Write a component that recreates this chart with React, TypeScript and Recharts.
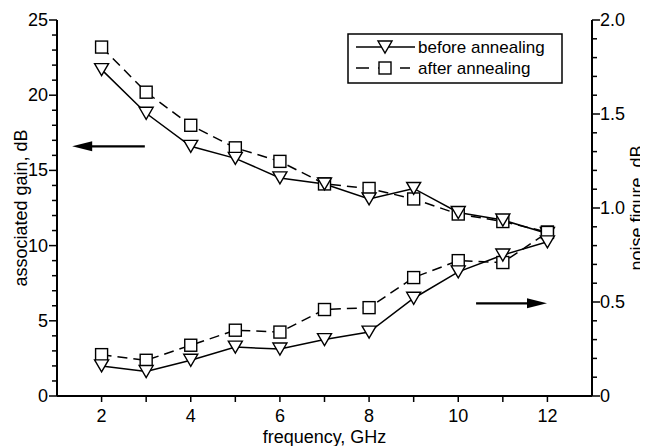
import React from 'react';
import {
  LineChart,
  Line,
  XAxis,
  YAxis,
  Legend,
  ReferenceLine
} from 'recharts';

// frequency, GHz
const freq = [2, 3, 4, 5, 6, 7, 8, 9, 10, 11, 12];
// associated gain, dB (left axis)
const gainBefore = [21.7, 18.8, 16.6, 15.8, 14.5, 14.1, 13.1, 13.8, 12.2, 11.7, 10.8];
const gainAfter = [23.2, 20.2, 18.0, 16.5, 15.6, 14.1, 13.8, 13.1, 12.1, 11.6, 10.9];
// noise figure, dB (right axis)
const nfBefore = [0.16, 0.13, 0.19, 0.26, 0.25, 0.30, 0.34, 0.52, 0.66, 0.75, 0.82];
const nfAfter = [0.22, 0.19, 0.27, 0.35, 0.34, 0.46, 0.47, 0.63, 0.72, 0.71, 0.87];

const xTicks = [2, 3, 4, 5, 6, 7, 8, 9, 10, 11, 12];
const gainTicks = [0, 1, 2, 3, 4, 5, 6, 7, 8, 9, 10, 11, 12, 13, 14, 15, 16, 17, 18, 19, 20, 21, 22, 23, 24, 25];
const nfTicks = [0, 0.1, 0.2, 0.3, 0.4, 0.5, 0.6, 0.7, 0.8, 0.9, 1.0, 1.1, 1.2, 1.3, 1.4, 1.5, 1.6, 1.7, 1.8, 1.9, 2.0];

const data = freq.map((f, i) => ({
  f,
  gainBefore: gainBefore[i],
  gainAfter: gainAfter[i],
  nfBefore: nfBefore[i],
  nfAfter: nfAfter[i]
}));

const FONT = '"Liberation Sans", Arial, Helvetica, sans-serif';

const Triangle = ({ cx, cy }: any) => (
  <polygon
    points={`${cx - 7},${cy - 6} ${cx + 7},${cy - 6} ${cx},${cy + 6}`}
    fill="#fff"
    stroke="#000"
    strokeWidth={1.4}
  />
);

const Square = ({ cx, cy }: any) => (
  <rect x={cx - 6} y={cy - 6} width={12} height={12} fill="#fff" stroke="#000" strokeWidth={1.4} />
);

const XTick = ({ x, y, payload }: any) => {
  const v = payload.value;
  return (
    <g>
      <line x1={x} x2={x} y1={y} y2={y + 6} stroke="#000" strokeWidth={1.5} />
      {v % 2 === 0 && (
        <text x={x} y={y + 20} textAnchor="middle" dominantBaseline="central" fontSize={18} fontFamily={FONT} fill="#000">
          {v}
        </text>
      )}
    </g>
  );
};

const LeftTick = ({ x, y, payload }: any) => {
  const v = payload.value;
  const major = v % 5 === 0;
  return (
    <g>
      <line x1={x} x2={x - (major ? 8 : 5)} y1={y} y2={y} stroke="#000" strokeWidth={1.5} />
      {major && (
        <text x={x - 9} y={y} textAnchor="end" dominantBaseline="central" fontSize={18} fontFamily={FONT} fill="#000">
          {v}
        </text>
      )}
    </g>
  );
};

const RightTick = ({ x, y, payload }: any) => {
  const v = payload.value;
  const major = Math.round(v * 10) % 5 === 0;
  return (
    <g>
      <line x1={x} x2={x + (major ? 8 : 5)} y1={y} y2={y} stroke="#000" strokeWidth={1.5} />
      {major && (
        <text x={x + 8} y={y} textAnchor="start" dominantBaseline="central" fontSize={18} fontFamily={FONT} fill="#000">
          {v === 0 ? '0' : v.toFixed(1)}
        </text>
      )}
    </g>
  );
};

// arrow drawn with the head at (x1, y1)
const Arrow = (props: any) => {
  const { x1, y1, x2, y2 } = props;
  const dir = x2 > x1 ? 1 : -1;
  return (
    <g>
      <line x1={x1 + dir * 18} y1={y1} x2={x2} y2={y2} stroke="#000" strokeWidth={2.2} />
      <polygon points={`${x1},${y1} ${x1 + dir * 20},${y1 - 5} ${x1 + dir * 20},${y1 + 5}`} fill="#000" />
    </g>
  );
};

const LegendBox = () => (
  <svg width={216} height={51} style={{ display: 'block' }}>
    <rect x={1} y={1} width={214} height={49} fill="#fff" stroke="#000" strokeWidth={1.5} />
    <line x1={9} x2={68} y1={14} y2={14} stroke="#000" strokeWidth={1.4} />
    <polygon points="31,8 45,8 38,20" fill="#fff" stroke="#000" strokeWidth={1.4} />
    <text x={71} y={14} dominantBaseline="central" fontSize={17} fontFamily={FONT} fill="#000">
      before annealing
    </text>
    <line x1={9} x2={63} y1={35} y2={35} stroke="#000" strokeWidth={1.4} strokeDasharray="13 9" />
    <rect x={32} y={29} width={12} height={12} fill="#fff" stroke="#000" strokeWidth={1.4} />
    <text x={71} y={35} dominantBaseline="central" fontSize={17} fontFamily={FONT} fill="#000">
      after annealing
    </text>
  </svg>
);

const RightLabel = ({ viewBox }: any) => {
  const cx = 629;
  const cy = viewBox.y + viewBox.height / 2;
  return (
    <text
      x={cx}
      y={cy}
      transform={`rotate(-90 ${cx} ${cy})`}
      textAnchor="middle"
      dominantBaseline="central"
      fontSize={18}
      fontFamily={FONT}
      fill="#000"
    >
      noise figure, dB
    </text>
  );
};

export default function App() {
  return (
    <div style={{ width: 640, height: 438 }}>
      <LineChart width={640} height={438} data={data} margin={{ top: 12, right: 0, bottom: 0, left: 0 }}>
        <XAxis
          dataKey="f"
          type="number"
          domain={[1, 13]}
          ticks={xTicks}
          interval={0}
          height={50}
          tickSize={0}
          tickMargin={0}
          tickLine={false}
          tick={<XTick />}
          axisLine={{ stroke: '#000', strokeWidth: 2 }}
          label={{
            content: ({ viewBox }: any) => (
              <text
                x={viewBox.x + viewBox.width / 2}
                y={viewBox.y + 41}
                textAnchor="middle"
                dominantBaseline="central"
                fontSize={18}
                fontFamily={FONT}
                fill="#000"
              >
                frequency, GHz
              </text>
            )
          }}
        />
        <YAxis
          yAxisId="left"
          orientation="left"
          domain={[0, 25]}
          ticks={gainTicks}
          interval={0}
          width={49}
          tickSize={0}
          tickMargin={0}
          tickLine={false}
          tick={<LeftTick />}
          axisLine={{ stroke: '#000', strokeWidth: 2 }}
          label={{
            content: ({ viewBox }: any) => {
              const cx = viewBox.x + 13;
              const cy = viewBox.y + viewBox.height / 2;
              return (
                <text
                  x={cx}
                  y={cy}
                  transform={`rotate(-90 ${cx} ${cy})`}
                  textAnchor="middle"
                  dominantBaseline="central"
                  fontSize={18}
                  fontFamily={FONT}
                  fill="#000"
                >
                  associated gain, dB
                </text>
              );
            }
          }}
        />
        <YAxis
          yAxisId="right"
          orientation="right"
          domain={[0, 2]}
          ticks={nfTicks}
          interval={0}
          width={56}
          tickSize={0}
          tickMargin={0}
          tickLine={false}
          tick={<RightTick />}
          axisLine={{ stroke: '#000', strokeWidth: 2 }}
          label={{ content: <RightLabel /> }}
        />
        <ReferenceLine
          yAxisId="left"
          segment={[{ x: 1.34, y: 16.6 }, { x: 2.97, y: 16.6 }]}
          shape={<Arrow />}
        />
        <ReferenceLine
          yAxisId="right"
          segment={[{ x: 11.99, y: 0.493 }, { x: 10.4, y: 0.493 }]}
          shape={<Arrow />}
        />
        <Line yAxisId="left" dataKey="gainAfter" stroke="#000" strokeWidth={1.5} strokeDasharray="10 6" dot={<Square />} isAnimationActive={false} />
        <Line yAxisId="left" dataKey="gainBefore" stroke="#000" strokeWidth={1.5} dot={<Triangle />} isAnimationActive={false} />
        <Line yAxisId="right" dataKey="nfAfter" stroke="#000" strokeWidth={1.5} strokeDasharray="10 6" dot={<Square />} isAnimationActive={false} />
        <Line yAxisId="right" dataKey="nfBefore" stroke="#000" strokeWidth={1.5} dot={<Triangle />} isAnimationActive={false} />
        <Legend
          layout="vertical"
          align="center"
          verticalAlign="middle"
          content={<LegendBox />}
          wrapperStyle={{ position: 'absolute', left: 339, top: 25, width: 216, height: 51 }}
        />
      </LineChart>
    </div>
  );
}
